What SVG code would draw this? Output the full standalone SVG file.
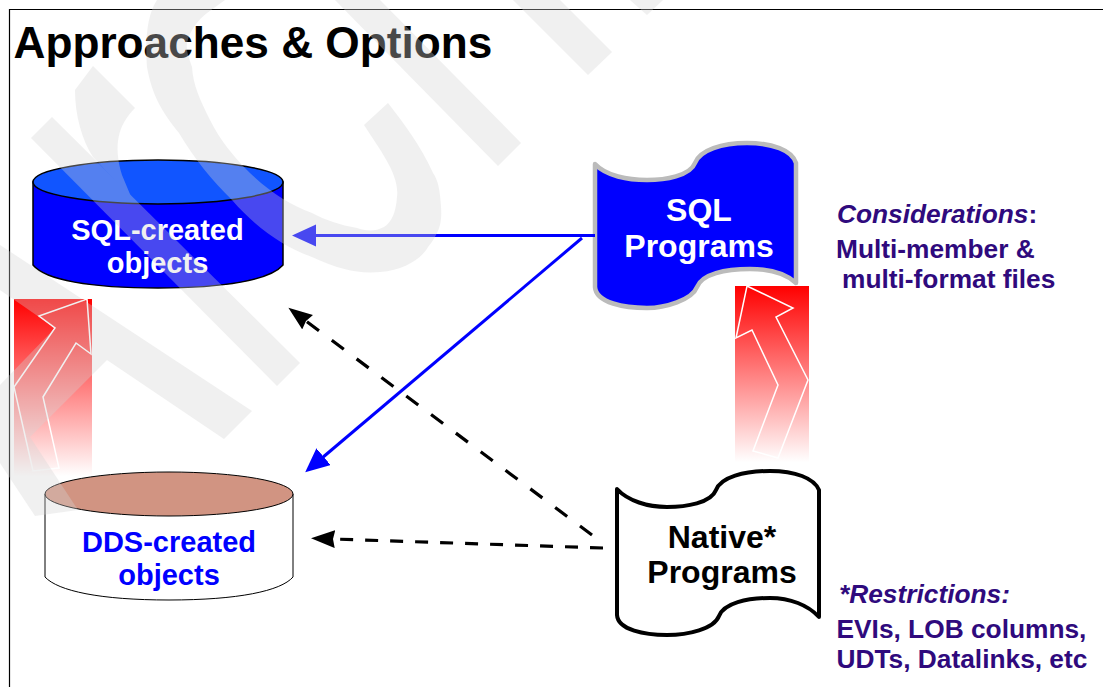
<svg xmlns="http://www.w3.org/2000/svg" width="1103" height="687" viewBox="0 0 1103 687">
<style>
text{font-family:"Liberation Sans",Arial,sans-serif;font-weight:bold}
.c{text-anchor:middle}
.n29{font-size:29px}
.n32{font-size:32px}
.side{font-size:26.300px;fill:#2f0a7d}
.it{font-style:italic}
.scroll{stroke-linejoin:round}
.blue{stroke:#00f;stroke-width:3;fill:none}
.dash{stroke:#000;stroke-width:3.200;fill:none}
.up{fill:none;stroke:#fff;stroke-width:1.5}
</style>
<defs>
<linearGradient id="fade" x1="0" y1="0" x2="0" y2="1"><stop offset="0" stop-color="#f00"/><stop offset="1" stop-color="#fff"/></linearGradient>
<marker id="hb2" markerUnits="userSpaceOnUse" markerWidth="26" markerHeight="26" refX="2" refY="11" orient="auto"><path d="M0 0L24 11L0 22Z" fill="#00f"/></marker>
<marker id="hk" markerUnits="userSpaceOnUse" markerWidth="26" markerHeight="20" refX="2" refY="9" orient="auto"><path d="M0 0L24 9L0 18L2 9Z" fill="#000"/></marker>
</defs>
<rect width="1103" height="687" fill="#fff"/>
<path d="M9.5 687V9.5H1103" fill="none" stroke="#000" stroke-width="1.2"/>
<g id="title"><text x="13.500" y="58" font-size="44.200">Approaches &amp; Options</text></g>

<g id="arrow-left"><rect x="14" y="299" width="78" height="177" fill="url(#fade)"/><path class="up" d="M87 299L91 354L76 343L43 397L59 468L33 471L14 387L55 328L39 316Z"/></g>
<g id="arrow-right"><rect x="735" y="286" width="74" height="176" fill="url(#fade)"/><path class="up" d="M747 286L793 308L776 317L808 380L778 458L753 451L778 385L752 330L736 338Z"/></g>

<g id="sql-created">
<path d="M33 182V265C45 280 90 288 158 288C225 288 270 280 283 265V182Z" fill="#00f" stroke="#000" stroke-width="1.5"/>
<ellipse cx="158" cy="182" rx="125" ry="22" fill="#1155ff" stroke="#000" stroke-width="1.5"/>
<text class="c n29" x="157.500" y="240" fill="#fff">SQL-created</text>
<text class="c n29" x="157.500" y="273" fill="#fff">objects</text>
</g>
<g id="dds-created">
<path d="M45 494V577C58 591 100 600 169 600C238 600 281 591 293 577V494Z" fill="#fff" stroke="#000" stroke-width="1"/>
<ellipse cx="169" cy="494" rx="124" ry="22" fill="#d19482" stroke="#000" stroke-width="1"/>
<text class="c n29" x="169" y="552" fill="#00f">DDS-created</text>
<text class="c n29" x="169" y="585" fill="#00f">objects</text>
</g>
<g id="sql-programs">
<path class="scroll" d="M595 164C606 176 628 180 647 180C665 180 690 176 695 163C700 150 722 143 747 143C772 143 792 150 796 163L796 283C785 273 768 269 750 269C725 269 702 274 697 287C692 300 665 308 647 308C625 308 596 303 595 287Z" fill="#00f" stroke="#bbb" stroke-width="4.500"/>
<text class="c n32" x="699" y="221" fill="#fff">SQL</text>
<text class="c n32" x="699" y="257" fill="#fff">Programs</text>
</g>
<g id="native-programs">
<path class="scroll" d="M617 489C628 501 648 507 667 507C686 507 711 503 716 490C721 477 744 471 770 471C795 471 814 478 819 490L819 617C808 605 790 598 770 598C747 598 724 603 719 616C714 629 688 635 667 635C645 635 618 630 617 615Z" fill="#fff" stroke="#000" stroke-width="4"/>
<text class="c n32" x="722" y="548" fill="#000">Native*</text>
<text class="c n32" x="722" y="583" fill="#000">Programs</text>
</g>
<g id="connectors">
<path class="blue" d="M595 235.500H314" marker-end="url(#hb2)"/>
<path class="blue" d="M582 238L322 458" marker-end="url(#hb2)"/>
<path class="dash" stroke-dasharray="15 16" d="M592 535L306 321" marker-end="url(#hk)"/>
<path class="dash" stroke-dasharray="13 12" d="M603 548L333 539" marker-end="url(#hk)"/>
</g>
<g id="notes">
<text class="side" x="837" y="223"><tspan class="it">Considerations</tspan>:</text>
<text class="side" x="836" y="258">Multi-member &amp;</text>
<text class="side" x="842" y="288">multi-format files</text>
<text class="side it" x="839" y="603">*Restrictions:</text>
<text class="side" x="836.500" y="638">EVIs, LOB columns,</text>
<text class="side" x="836.500" y="668">UDTs, Datalinks, etc</text>
</g>
<g id="watermark" fill="#d4d4d4" opacity="0.34">
<path d="M0 245L252 411L224 439L107 360L30 437L78 510L35 516L0 463V385L55 328L0 290Z"/>
<path d="M52 117L300 363L277 386L31 138Z"/>
<path d="M93 66L135 108C118 125 113 145 122 175L132 199L93 157C82 140 75 115 75 90Z"/>
<path d="M157 0C147 15 145 40 147 67C152 95 162 112 179 133C195 160 212 180 232 200C258 230 285 247 312 257C340 270 360 274 380 272C405 270 422 258 428 247C440 232 442 222 441 207C440 190 438 180 433 173C420 145 405 125 388 103L364 125C380 150 400 175 397 197C396 212 392 222 384 227C375 232 365 231 357 228C340 225 325 220 312 213C290 205 270 192 250 173C232 155 220 140 210 120C200 100 193 85 192 67C188 55 186 50 187 43C190 30 198 20 207 13L225 0Z"/>
<path d="M335 0L498 166L521 143L380 0Z"/>
<path d="M513 0L588 75L612 52L560 0Z"/>
<path d="M630 0L647 15L663 0Z"/>
</g>
</svg>
